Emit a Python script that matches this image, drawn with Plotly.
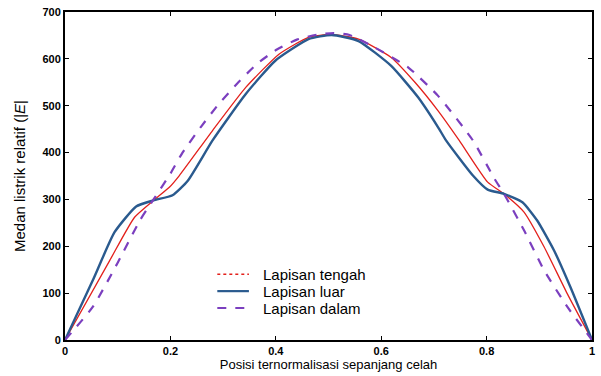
import plotly.graph_objects as go

# Lapisan tengah (red)
x_tengah = [0.0, 0.085, 0.132, 0.168, 0.198, 0.217, 0.280, 0.343, 0.406, 0.462, 0.505, 0.557, 0.619, 0.664, 0.708, 0.748, 0.802, 0.833, 0.871, 0.909, 0.953, 1.0]
y_tengah = [0, 170, 262, 298, 326, 351, 447, 539, 610, 646, 652, 642, 603, 550, 489, 426, 337, 312, 273, 199, 99, 0]

# Lapisan luar (blue)
x_luar = [0.0, 0.053, 0.094, 0.135, 0.168, 0.204, 0.233, 0.280, 0.343, 0.399, 0.462, 0.506, 0.557, 0.619, 0.670, 0.708, 0.723, 0.774, 0.802, 0.833, 0.868, 0.896, 0.928, 0.959, 1.0]
y_luar = [0, 128, 230, 285, 298, 309, 340, 426, 525, 596, 642, 651, 638, 585, 518, 454, 426, 351, 321, 312, 294, 255, 191, 113, 0]

# Lapisan dalam (purple)
x_dalam = [0.0, 0.053, 0.100, 0.142, 0.168, 0.200, 0.223, 0.258, 0.292, 0.329, 0.365, 0.402, 0.440, 0.480, 0.510, 0.540, 0.588, 0.651, 0.708, 0.774, 0.815, 0.833, 0.871, 0.909, 0.953, 1.0]
y_dalam = [0, 71, 165, 255, 300, 355, 400, 455, 504, 550, 590, 620, 641, 652, 655, 651, 624, 582, 521, 426, 344, 312, 234, 149, 71, 0]

series_names = ["Lapisan tengah", "Lapisan luar", "Lapisan dalam"]
series_colors = ["#e3201b", "#2a5a8e", "#7b3fbf"]

x_ticks = [0, 0.2, 0.4, 0.6, 0.8, 1]
x_ticklabels = ["0", "0.2", "0.4", "0.6", "0.8", "1"]
y_ticks = [0, 100, 200, 300, 400, 500, 600, 700]

fig = go.Figure()
fig.add_trace(go.Scatter(x=x_tengah, y=y_tengah, mode="lines", name=series_names[0],
                         line=dict(color=series_colors[0], width=1.3, shape="spline", smoothing=0.5)))
fig.add_trace(go.Scatter(x=x_luar, y=y_luar, mode="lines", name=series_names[1],
                         line=dict(color=series_colors[1], width=2.4, shape="spline", smoothing=0.5)))
fig.add_trace(go.Scatter(x=x_dalam, y=y_dalam, mode="lines", name=series_names[2],
                         line=dict(color=series_colors[2], width=2.2, dash="dash", shape="spline", smoothing=0.5)))

axis_common = dict(showline=True, linecolor="black", linewidth=2, mirror="allticks",
                   ticks="inside", ticklen=4, tickcolor="black", tickwidth=1,
                   showgrid=False, zeroline=False,
                   tickfont=dict(family="Liberation Sans", size=11, color="black", weight="bold"))

# Manual compact legend (paper coordinates)
legend_y = [0.2006, 0.149, 0.0973]
legend_dash = ["dot", "solid", "dash"]
legend_width = [1.6, 2.2, 2.0]
for name, color, ly, dsh, w in zip(series_names, series_colors, legend_y, legend_dash, legend_width):
    fig.add_shape(type="line", xref="paper", yref="paper", x0=0.289, x1=0.349, y0=ly, y1=ly,
                  line=dict(color=color, width=w, dash=dsh))
    fig.add_annotation(xref="paper", yref="paper", x=0.372, y=ly, text=name, showarrow=False,
                       xanchor="left", yanchor="middle", font=dict(size=15, color="black"))

fig.update_layout(
    width=601, height=376,
    margin=dict(l=65, r=6, t=11, b=36),
    plot_bgcolor="white", paper_bgcolor="white",
    font=dict(family="Liberation Sans", color="black"),
    xaxis=dict(range=[0, 1], tickvals=x_ticks, ticktext=x_ticklabels,
               title=dict(text="Posisi ternormalisasi sepanjang celah", font=dict(size=13), standoff=2),
               **axis_common),
    yaxis=dict(range=[0, 700], tickvals=y_ticks,
               title=dict(text="Medan listrik relatif (|<i>E</i>|", font=dict(size=15), standoff=13),
               **axis_common),
    showlegend=False,
)

fig.write_html("out.html")
